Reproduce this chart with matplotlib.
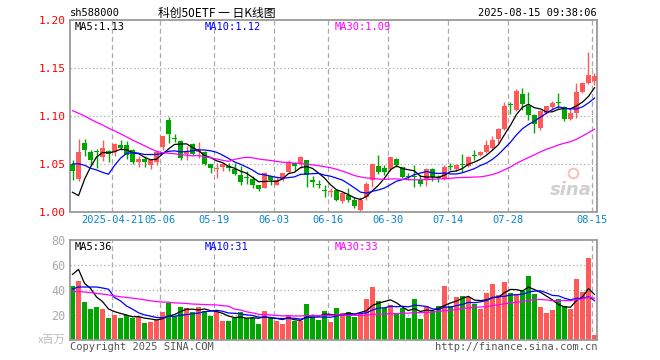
import numpy as np
import pandas as pd
import matplotlib
matplotlib.use('Agg')
from matplotlib import pyplot as plt

# candles, 2025-04-10 .. 2025-08-15 (88 trading days)
opens = [1.050, 1.034, 1.072, 1.062, 1.064, 1.057, 1.064, 1.063, 1.070, 1.070,
         1.065, 1.052, 1.055, 1.049, 1.052, 1.068, 1.096, 1.077, 1.074, 1.060,
         1.071, 1.063, 1.063, 1.050, 1.045, 1.047, 1.048, 1.045, 1.039, 1.036,
         1.034, 1.028, 1.025, 1.037, 1.028, 1.034, 1.042, 1.051, 1.050, 1.054,
         1.033, 1.029, 1.023, 1.021, 1.023, 1.011, 1.018, 1.013, 1.002, 1.016,
         1.033, 1.048, 1.046, 1.045, 1.055, 1.047, 1.037, 1.038, 1.033, 1.033,
         1.045, 1.036, 1.034, 1.048, 1.045, 1.050, 1.048, 1.059, 1.059, 1.062,
         1.067, 1.076, 1.086, 1.1125, 1.106, 1.123, 1.110, 1.101, 1.087, 1.103,
         1.109, 1.114, 1.109, 1.097, 1.103, 1.125, 1.134, 1.136]
highs = [1.054, 1.076, 1.076, 1.065, 1.066, 1.075, 1.065, 1.072, 1.075, 1.074,
         1.066, 1.058, 1.058, 1.054, 1.064, 1.079, 1.099, 1.081, 1.075, 1.069,
         1.072, 1.073, 1.064, 1.050, 1.051, 1.051, 1.051, 1.051, 1.048, 1.043,
         1.037, 1.028, 1.042, 1.038, 1.036, 1.041, 1.054, 1.052, 1.058, 1.054,
         1.038, 1.033, 1.028, 1.025, 1.023, 1.021, 1.025, 1.016, 1.016, 1.031,
         1.051, 1.059, 1.049, 1.057, 1.056, 1.047, 1.041, 1.049, 1.039, 1.046,
         1.046, 1.039, 1.049, 1.051, 1.050, 1.060, 1.058, 1.065, 1.064, 1.075,
         1.079, 1.088, 1.115, 1.115, 1.128, 1.129, 1.125, 1.102, 1.106, 1.110,
         1.116, 1.124, 1.110, 1.108, 1.134, 1.135, 1.167, 1.145]
lows = [1.033, 1.032, 1.058, 1.049, 1.046, 1.053, 1.052, 1.058, 1.065, 1.055,
        1.050, 1.047, 1.047, 1.045, 1.049, 1.065, 1.072, 1.073, 1.054, 1.054,
        1.059, 1.056, 1.049, 1.041, 1.035, 1.043, 1.043, 1.039, 1.028, 1.029,
        1.025, 1.022, 1.025, 1.028, 1.028, 1.032, 1.041, 1.043, 1.046, 1.026,
        1.026, 1.025, 1.016, 1.016, 1.011, 1.009, 1.010, 1.004, 1.000, 1.013,
        1.026, 1.040, 1.039, 1.043, 1.047, 1.035, 1.033, 1.026, 1.027, 1.027,
        1.032, 1.031, 1.033, 1.044, 1.043, 1.042, 1.047, 1.054, 1.058, 1.061,
        1.066, 1.072, 1.085, 1.102, 1.105, 1.106, 1.096, 1.082, 1.085, 1.102,
        1.106, 1.107, 1.095, 1.096, 1.098, 1.124, 1.133, 1.132]
closes = [1.043, 1.062, 1.065, 1.054, 1.062, 1.067, 1.060, 1.071, 1.067, 1.059,
          1.052, 1.055, 1.052, 1.054, 1.062, 1.079, 1.081, 1.076, 1.056, 1.063,
          1.060, 1.065, 1.050, 1.046, 1.046, 1.050, 1.046, 1.040, 1.031, 1.035,
          1.028, 1.024, 1.041, 1.033, 1.033, 1.041, 1.052, 1.048, 1.057, 1.039,
          1.031, 1.028, 1.022, 1.022, 1.013, 1.020, 1.013, 1.006, 1.013, 1.029,
          1.050, 1.042, 1.042, 1.057, 1.049, 1.036, 1.036, 1.036, 1.029, 1.045,
          1.036, 1.035, 1.047, 1.047, 1.049, 1.049, 1.057, 1.058, 1.062, 1.070,
          1.075, 1.086, 1.110, 1.111, 1.126, 1.113, 1.101, 1.092, 1.105, 1.110,
          1.114, 1.1135, 1.097, 1.103, 1.125, 1.134, 1.143, 1.142]
# volume, x 1,000,000
volumes = [43.2, 47.2, 30.4, 24.8, 26.4, 24.8, 17.6, 20.0, 17.6, 20.0,
           17.6, 18.7, 13.6, 14.4, 16.0, 22.4, 29.6, 19.2, 26.4, 25.6,
           22.4, 26.4, 23.5, 19.5, 22.4, 15.2, 15.2, 17.3, 22.1, 17.3,
           17.3, 13.1, 23.2, 17.3, 15.2, 13.1, 20.0, 15.2, 15.2, 28.8,
           20.0, 16.0, 23.2, 14.7, 25.9, 21.6, 22.4, 18.7, 21.6, 33.1,
           42.7, 31.2, 25.3, 28.0, 21.6, 25.3, 17.6, 32.8, 16.8, 27.0,
           23.5, 27.2, 43.5, 27.0, 34.5, 35.0, 34.5, 28.8, 24.8, 37.5,
           44.5, 36.0, 46.8, 37.5, 36.8, 39.0, 51.5, 36.8, 26.5, 21.6,
           24.0, 33.0, 27.5, 24.8, 48.8, 38.4, 66.0, 4.0]

# days before the window (not drawn), only feed the moving averages
pre_closes = [1.140, 1.150, 1.160, 1.155, 1.150, 1.160, 1.155,
              1.160, 1.155, 1.150, 1.145, 1.140, 1.148, 1.145,
              1.120, 1.100, 1.090, 1.085, 1.080, 1.078,
              1.060, 1.080, 1.085, 1.080, 1.092,
              1.080, 0.980, 0.990, 1.010]
pre_volumes = [45, 42, 40, 44, 41, 38, 43, 40,
               36, 34, 38, 35, 37,
               34, 35, 33, 36, 32, 34, 36,
               31.2, 30.4, 24.8, 26.4, 32.7,
               27.2, 86.4, 44.8, 60.9]

tick_pos = [7, 15, 24, 34, 43, 53, 63, 73, 87]
tick_labels = ['2025-04-21', '05-06', '05-19', '06-03', '06-16', '06-30', '07-14', '07-28', '08-15']

n = len(closes)
x = np.arange(n)
up = np.array(closes) >= np.array(opens)
red, green = '#FF5A5A', '#00A600'
cols = [red if u else green for u in up]

all_c = pd.Series(pre_closes + closes)
all_v = pd.Series(pre_volumes + volumes)
ma = {k: all_c.rolling(k).mean().values[-n:] for k in (5, 10, 30)}
vma = {k: all_v.rolling(k).mean().values[-n:] for k in (5, 10, 30)}
ma_cols = {5: 'black', 10: '#0000FF', 30: '#FF00FF'}

mono = 'DejaVu Sans Mono'
fig = plt.figure(figsize=(6.6, 3.6), dpi=100)
ax = fig.add_axes([70/660, 1-212/360, 527/660, 192/360])
axv = fig.add_axes([70/660, 1-340/360, 527/660, 100/360])

for a in (ax, axv):
    a.set_xlim(-0.42, 87.42)
    for s in a.spines.values():
        s.set_color('#9A9A9A')
        s.set_linewidth(1.3)
    for t in tick_pos:
        a.axvline(t - 0.35, color='#AAAAAA', lw=0.9, ls=(0, (4, 2.5)), zorder=0)
    a.tick_params(length=0)

# price panel
for yv in (1.05, 1.10, 1.15):
    ax.axhline(yv, color='#AAAAAA', lw=0.9, ls=(0, (1, 2)), zorder=0)
ax.vlines(x, lows, highs, colors=cols, lw=1.0, zorder=2)
body_b = np.minimum(opens, closes)
body_h = np.maximum(np.abs(np.array(closes) - np.array(opens)), 0.0008)
ax.bar(x, body_h, bottom=body_b, width=0.82, color=cols, lw=0, zorder=3)
for k in (5, 10, 30):
    ax.plot(x, ma[k], color=ma_cols[k], lw=0.9, zorder=4)
ax.set_ylim(1.0, 1.2)
ax.set_yticks([1.00, 1.05, 1.10, 1.15, 1.20])
ax.set_yticklabels(['%.2f' % v for v in [1.00, 1.05, 1.10, 1.15, 1.20]],
                   color='#FF0000', family=mono, fontsize=8)
ax.set_xticks([t - 0.35 for t in tick_pos])
ax.set_xticklabels(tick_labels, color='#0A84CC', family=mono, fontsize=7.5)
ax.tick_params(axis='y', pad=3)
ax.tick_params(axis='x', pad=2)

ax.text(5/527, 0.965, 'MA5:%.2f' % ma[5][-1], transform=ax.transAxes, color='black',
        family=mono, fontsize=7.5, va='center')
ax.text(135/527, 0.965, 'MA10:%.2f' % ma[10][-1], transform=ax.transAxes, color='#0000FF',
        family=mono, fontsize=7.5, va='center')
ax.text(265/527, 0.965, 'MA30:%.2f' % ma[30][-1], transform=ax.transAxes, color='#FF00FF',
        family=mono, fontsize=7.5, va='center')
# sina watermark
ax.plot([0.955], [0.205], 'o', transform=ax.transAxes, ms=7, mfc='none', mec='#F3C2C2',
        mew=1.5, zorder=1)
ax.text(0.99, 0.115, 'sina', transform=ax.transAxes, color='#D0D0D0', fontsize=13,
        style='italic', weight='bold', ha='right', va='center', zorder=1)

# volume panel
for yv in (20, 40, 60):
    axv.axhline(yv, color='#AAAAAA', lw=0.9, ls=(0, (1, 2)), zorder=0)
axv.bar(x, volumes, width=0.88, color=cols, lw=0, zorder=2)
for k in (5, 10, 30):
    axv.plot(x, vma[k], color=ma_cols[k], lw=0.9, zorder=3)
axv.set_ylim(0, 80)
axv.set_yticks([20, 40, 60, 80])
axv.set_yticklabels(['20', '40', '60', '80'], color='#AAAAAA', family=mono, fontsize=8.5)
axv.set_xticks([])
axv.text(-0.008, 0.0, 'x百万', transform=axv.transAxes, color='#BBBBBB', fontsize=8,
         family=['Noto Sans CJK SC', 'DejaVu Sans'], ha='right', va='center')
axv.text(5/527, 0.93, 'MA5:%d' % round(vma[5][-1]), transform=axv.transAxes, color='black',
         family=mono, fontsize=7.5, va='center')
axv.text(135/527, 0.93, 'MA10:%d' % round(vma[10][-1]), transform=axv.transAxes, color='#0000FF',
         family=mono, fontsize=7.5, va='center')
axv.text(265/527, 0.93, 'MA30:%d' % round(vma[30][-1]), transform=axv.transAxes, color='#FF00FF',
         family=mono, fontsize=7.5, va='center')

# header and footer
fig.text(70/660, 1-13/360, 'sh588000', family=mono, fontsize=7.5, va='center')
fig.text(217/660, 1-13/360, '科创50ETF 一 日K线图', family=['Noto Sans CJK SC', 'DejaVu Sans'],
         fontsize=8.5, ha='center', va='center')
fig.text(597/660, 1-13/360, '2025-08-15 09:38:06', family=mono, fontsize=7.5,
         ha='right', va='center')
fig.text(70/660, 1-347/360, 'Copyright 2025 SINA.COM', family=mono, fontsize=7.5,
         color='#555555', va='center')
fig.text(597/660, 1-347/360, 'http://finance.sina.com.cn', family=mono, fontsize=7.5,
         color='#555555', ha='right', va='center')

fig.savefig('out.png', dpi=100)
